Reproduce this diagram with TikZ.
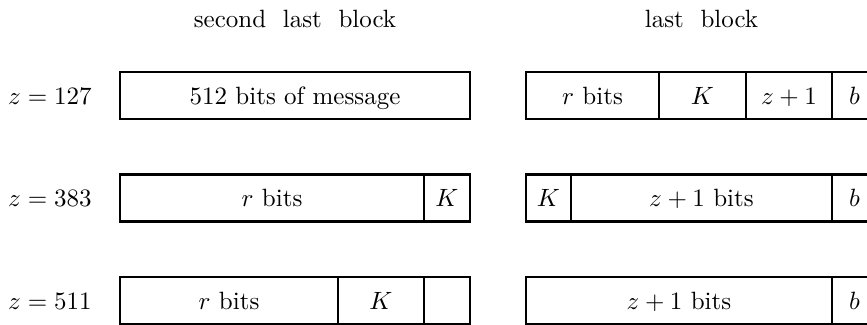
\documentclass[tikz,border=0pt]{standalone}
\usepackage{tikz}
\begin{document}
\begin{tikzpicture}[x=0.4pt,y=-0.4pt,
  cell/.style={draw=black,line width=1.1pt,minimum height=18.8pt,inner sep=0pt,outer sep=0pt,
    text height=7pt,text depth=0pt,anchor=west,font=\normalsize},
  w/.style={minimum width=#1*0.4pt},
  rowlabel/.style={inner sep=0pt,text height=7pt,text depth=0pt},
  header/.style={inner sep=0pt,anchor=base}]
\useasboundingbox (0,0) rectangle (867,325);
\clip (0,0) rectangle (867,325);
% headers
\node[header] (h1) at (295,27.5) {second\ \ last\ \ block};
\node[header] (h2) at (701.5,27.5) {last\ \ block};
% row labels
\node[rowlabel] (l1) at (50,95.5) {$z=127$};
\node[rowlabel] (l2) at (50,198) {$z=383$};
\node[rowlabel] (l3) at (50,300.5) {$z=511$};
% row 1
\node[cell,w=350] (a1) at (120,95.5) {512 bits of message};
\node[cell,w=133] (b1) at (526,95.5) {$r$ bits};
\node[cell,w=87] (b2) at (b1.east) {$K$};
\node[cell,w=86] (b3) at (b2.east) {$z+1$};
\node[cell,w=45] (b4) at (b3.east) {$b$};
% row 2
\node[cell,w=304] (c1) at (120,198) {$r$ bits};
\node[cell,w=46] (c2) at (c1.east) {$K$};
\node[cell,w=45] (d1) at (526,198) {$K$};
\node[cell,w=261] (d2) at (d1.east) {$z+1$ bits};
\node[cell,w=45] (d3) at (d2.east) {$b$};
% row 3
\node[cell,w=218] (e1) at (120,300.5) {$r$ bits};
\node[cell,w=86] (e2) at (e1.east) {$K$};
\node[cell,w=46] (e3) at (e2.east) {};
\node[cell,w=306] (f1) at (526,300.5) {$z+1$ bits};
\node[cell,w=45] (f2) at (f1.east) {$b$};
\end{tikzpicture}
\end{document}
